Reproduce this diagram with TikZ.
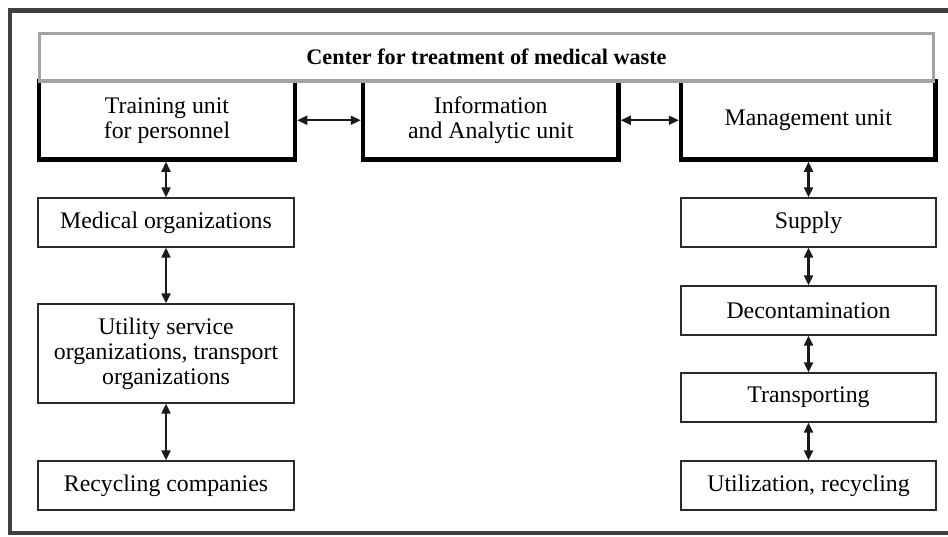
\documentclass[tikz,border=0pt]{standalone}
\usepackage{fontspec}
\setmainfont{Liberation Serif}
\usetikzlibrary{arrows.meta}
\definecolor{framegray}{HTML}{404040}
\definecolor{titlegray}{HTML}{A3A3A3}
\definecolor{boxline}{HTML}{2A2A2A}
\definecolor{arrowc}{HTML}{1A1A1A}
\tikzset{
  txt/.style={font=\fontsize{23.8}{25}\selectfont, align=center, text=black},
  thinbox/.style={txt, draw=boxline, line width=1.4pt, fill=white, inner sep=0pt, outer sep=0.7pt},
  thickbox/.style={txt, draw=none, inner sep=0pt, outer sep=2.25pt},
  thickline/.style={draw=black, line width=4.5pt},
  biarrow/.style={draw=arrowc, line width=2.2pt, {Triangle[length=10pt,width=9pt]}-{Triangle[length=10pt,width=9pt]}},
}
\begin{document}
\begin{tikzpicture}[x=1pt,y=-1pt]
\useasboundingbox (0,0) rectangle (948,536);
\fill[white] (0,0) rectangle (948,536);
% outer frame (cut at right)
\draw[framegray, line width=4.5pt] (960,10.5) -- (10,10.5) -- (10,533) -- (960,533);

% top units
\node[thickbox, minimum width=256pt, minimum height=78.5pt] (train) at (167,120.25) {Training unit\\for personnel};
\node[thickbox, minimum width=255.5pt, minimum height=78.5pt] (info) at (490.75,120.25) {Information\\and Analytic unit};
\node[thickbox, minimum width=254.5pt, minimum height=78.5pt] (mgmt) at (808.25,120.25) {\raisebox{-2.5pt}{Management unit}};
\foreach \n in {train,info,mgmt}{
  \draw[thickline] ([xshift=2.25pt]\n.north west) -- ([xshift=2.25pt,yshift=2.25pt]\n.south west) -- ([xshift=-2.25pt,yshift=2.25pt]\n.south east) -- ([xshift=-2.25pt]\n.north east);
}

% title
\node[draw=titlegray, line width=3.5pt, fill=white, minimum width=894pt, minimum height=47.5pt, inner sep=0pt,
      font=\bfseries\fontsize{22.2}{25}\selectfont] (title) at (486.5,57.25) {Center for treatment of medical waste};

% left column
\node[thinbox, minimum width=256pt, minimum height=49pt] (med) at (166,222.5) {Medical organizations};
\node[thinbox, minimum width=256pt, minimum height=99pt] (util) at (166,353.5) {Utility service\\organizations, transport\\organizations};
\node[thinbox, minimum width=256pt, minimum height=49pt] (recyc) at (166,485.5) {Recycling companies};

% right column
\node[thinbox, minimum width=255pt, minimum height=49pt] (supply) at (808.5,222.5) {Supply};
\node[thinbox, minimum width=255pt, minimum height=49pt] (decon) at (808.5,310.5) {Decontamination};
\node[thinbox, minimum width=255pt, minimum height=49pt] (transp) at (808.5,397.5) {Transporting};
\node[thinbox, minimum width=255pt, minimum height=49pt] (utiliz) at (808.5,485.5) {Utilization, recycling};

% connectors
\draw[biarrow] (train.east) -- (info.west);
\draw[biarrow] (info.east) -- (mgmt.west);
\draw[biarrow] (train.south -| med.north) -- (med.north);
\draw[biarrow] (med.south) -- (util.north);
\draw[biarrow] (util.south) -- (recyc.north);
\draw[biarrow] (mgmt.south -| supply.north) -- (supply.north);
\draw[biarrow] (supply.south) -- (decon.north);
\draw[biarrow] (decon.south) -- (transp.north);
\draw[biarrow] (transp.south) -- (utiliz.north);
\end{tikzpicture}
\end{document}
